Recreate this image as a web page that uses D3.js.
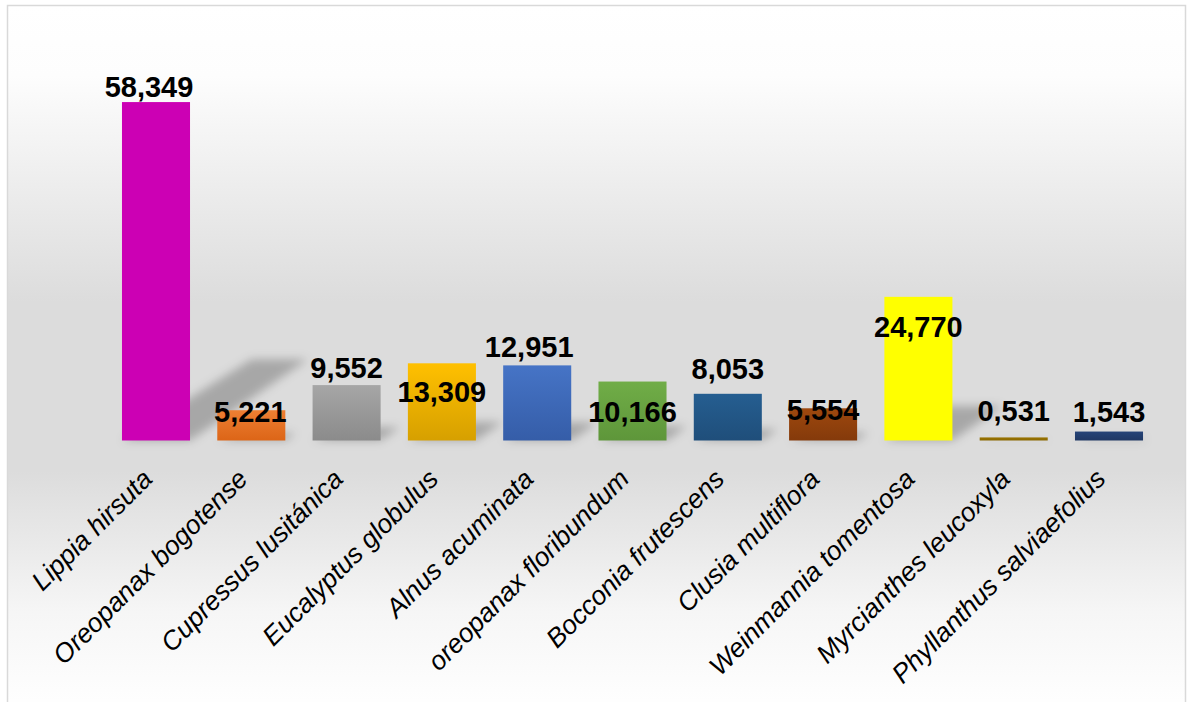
<!DOCTYPE html>
<html>
<head>
<meta charset="utf-8">
<script src="https://cdn.jsdelivr.net/npm/d3@7/dist/d3.min.js"></script>
<style>
  html, body { margin: 0; padding: 0; background: #ffffff; }
  svg { display: block; }
</style>
</head>
<body>
<svg id="chart" width="1188" height="702"></svg>
<script>
// Species and their measured values
const species = [
  "Lippia hirsuta", "Oreopanax bogotense", "Cupressus lusitánica", "Eucalyptus globulus",
  "Alnus acuminata", "oreopanax floribundum", "Bocconia frutescens", "Clusia multiflora",
  "Weinmannia tomentosa", "Myrcianthes leucoxyla", "Phyllanthus salviaefolius"
];
const values = [58.349, 5.221, 9.552, 13.309, 12.951, 10.166, 8.053, 5.554, 24.770, 0.531, 1.543];

// Fill colours per bar: [top, bottom] of a vertical gradient
const barColors = [
  ["#cc00b4", "#cc00b4"], ["#ee7f33", "#dc6517"], ["#a6a6a6", "#8b8b8b"], ["#ffc000", "#d6a000"],
  ["#4674c6", "#355da8"], ["#70ad47", "#5e963a"], ["#255e91", "#1f4e7a"], ["#9e480e", "#843a0b"],
  ["#ffff00", "#ffff00"], ["#997300", "#8a6800"], ["#264478", "#203864"]
];

// Hand placement of the value labels: horizontal shift and baseline offset from the bar top
const labelNudge = [
  [-7, -5], [-1, 12], [0, -7], [0, 39], [-8, -8], [0, 40], [0, -15], [0, 12], [0, 40], [0, -16], [0, -10]
];

const fmt = d3.formatLocale({ decimal: ",", thousands: ".", grouping: [3], currency: ["", ""] }).format(".3f");

const svg = d3.select("#chart");
const defs = svg.append("defs");

// Chart-area background: white at top, grey in the middle, white at the bottom
const bg = defs.append("linearGradient").attr("id", "bgGrad")
  .attr("x1", 0).attr("y1", 0).attr("x2", 0).attr("y2", 1);
[[0, "#ffffff"], [0.1, "#fdfdfd"], [0.42, "#dcdcdc"], [0.66, "#dcdcdc"], [0.86, "#f6f6f6"], [1, "#ffffff"]]
  .forEach(([o, c]) => bg.append("stop").attr("offset", o).attr("stop-color", c));

svg.append("rect")
  .attr("x", 7.5).attr("y", 5.5).attr("width", 1178).attr("height", 706)
  .attr("fill", "url(#bgGrad)")
  .attr("stroke", "#d9d9d9").attr("stroke-width", 1.5);

barColors.forEach((c, i) => {
  const g = defs.append("linearGradient").attr("id", "bar" + i)
    .attr("x1", 0).attr("y1", 0).attr("x2", 0).attr("y2", 1);
  g.append("stop").attr("offset", 0).attr("stop-color", c[0]);
  g.append("stop").attr("offset", 1).attr("stop-color", c[1]);
});

defs.append("filter").attr("id", "soft")
  .attr("x", "-50%").attr("y", "-50%").attr("width", "200%").attr("height", "200%")
  .append("feGaussianBlur").attr("stdDeviation", 5);

const x = d3.scaleBand()
  .domain(species)
  .range([108.35, 1156.65])
  .paddingInner(0.286)
  .paddingOuter(0.143);

const y = d3.scaleLinear().domain([0, 70]).range([440.5, 34.5]);

const rows = species.map((s, i) => ({ s, v: values[i], i }));

// Perspective shadows cast up and to the right behind each bar
svg.append("g").attr("filter", "url(#soft)")
  .selectAll("polygon").data(rows).join("polygon")
  .attr("points", d => {
    const x0 = x(d.s), x1 = x0 + x.bandwidth();
    const base = y(0);
    const sh = 0.24 * (base - y(d.v));
    const dx = 1.45 * sh;
    return [[x0, base], [x1, base], [x1 + dx, base - sh], [x0 + dx + 12, base - sh]].join(" ");
  })
  .attr("fill", "#000").attr("fill-opacity", 0.24);

// Bars
svg.append("g").selectAll("rect").data(rows).join("rect")
  .attr("x", d => x(d.s))
  .attr("y", d => y(d.v))
  .attr("width", x.bandwidth())
  .attr("height", d => y(0) - y(d.v))
  .attr("fill", d => `url(#bar${d.i})`);

// Value labels
svg.append("g").selectAll("text").data(rows).join("text")
  .attr("x", d => x(d.s) + x.bandwidth() / 2 + labelNudge[d.i][0])
  .attr("y", d => y(d.v) + labelNudge[d.i][1])
  .attr("text-anchor", "middle")
  .attr("font-family", "'Liberation Sans', Arial, sans-serif")
  .attr("font-weight", "bold")
  .attr("font-size", 29)
  .attr("fill", "#000")
  .text(d => fmt(d.v));

// Category axis with slanted italic labels
const xAxis = svg.append("g")
  .attr("transform", `translate(0,${y(0)})`)
  .call(d3.axisBottom(x).tickSize(0).tickPadding(0));
xAxis.select(".domain").remove();
xAxis.selectAll(".tick text")
  .attr("font-family", "'Liberation Sans', Arial, sans-serif")
  .attr("font-style", "italic")
  .attr("font-size", 26.5)
  .attr("fill", "#000")
  .attr("text-anchor", "end")
  .attr("dy", null)
  .attr("y", 0)
  .attr("transform", "translate(-2,40) rotate(-45)");
</script>
</body>
</html>
